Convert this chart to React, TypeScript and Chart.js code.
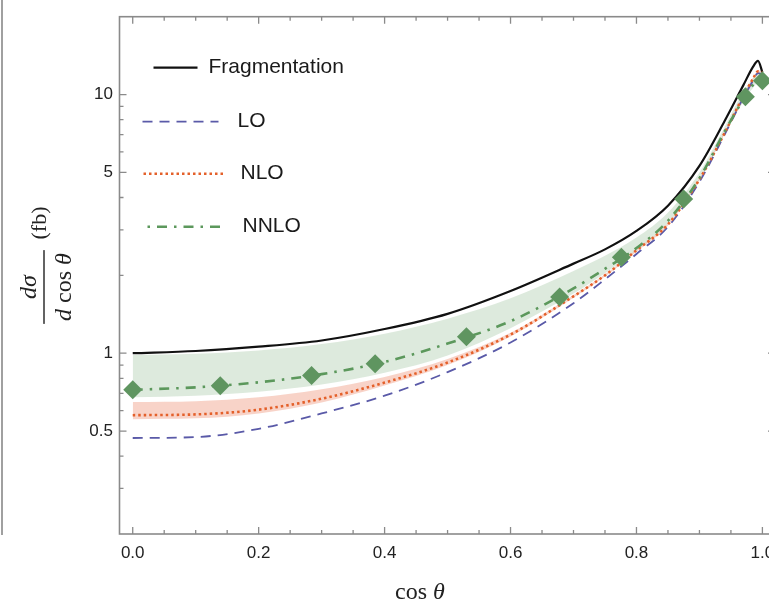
import React, { useEffect, useRef } from "react";
import { Chart, registerables } from "chart.js";

Chart.register(...registerables);

// ---- data ----
const cosTheta = [0, 0.1, 0.2, 0.3, 0.4, 0.5, 0.6, 0.7, 0.75, 0.8, 0.85, 0.9, 0.94, 0.97, 0.985, 0.993, 1.0];
const fragmentation = [1.0, 1.02, 1.06, 1.12, 1.24, 1.42, 1.74, 2.22, 2.52, 2.97, 3.72, 5.3, 7.9, 10.9, 12.8, 13.5, 12.2];
const lo = [0.47, 0.474, 0.51, 0.585, 0.685, 0.845, 1.1, 1.56, 1.93, 2.42, 3.08, 4.6, 7.0, 9.75, 11.3, 12.1, 12.0];
const nlo = [0.576, 0.58, 0.605, 0.667, 0.77, 0.92, 1.18, 1.66, 2.0, 2.5, 3.15, 4.7, 7.1, 9.9, 11.5, 12.3, 12.2];
const nloUpper = [0.647, 0.652, 0.675, 0.725, 0.81, 0.95, 1.2, 1.68, 2.02, 2.52, 3.18, 4.74, 7.16, 9.98, 11.6, 12.4, 12.3];
const nloLower = [0.556, 0.56, 0.585, 0.645, 0.75, 0.9, 1.16, 1.64, 1.98, 2.47, 3.12, 4.66, 7.04, 9.82, 11.4, 12.2, 12.1];
const nnlo = [0.722, 0.738, 0.772, 0.83, 0.925, 1.09, 1.33, 1.78, 2.12, 2.55, 3.25, 4.75, 7.2, 9.6, 10.9, 11.4, 11.3];
const nnloUpper = [0.985, 0.995, 1.025, 1.085, 1.19, 1.36, 1.63, 2.08, 2.38, 2.8, 3.5, 5.0, 7.5, 10.3, 11.6, 12.2, 11.9];
const nnloLower = [0.675, 0.685, 0.71, 0.757, 0.84, 0.98, 1.25, 1.7, 2.04, 2.5, 3.18, 4.68, 7.05, 9.4, 10.6, 11.1, 11.0];
const markerCos = [0, 0.139, 0.284, 0.385, 0.53, 0.678, 0.776, 0.875, 0.973, 1.0];
const markerNNLO = [0.722, 0.748, 0.82, 0.911, 1.157, 1.65, 2.35, 3.95, 9.8, 11.3];

const xTickValues = [0, 0.2, 0.4, 0.6, 0.8, 1.0];
const xMinorTicks = [0.05, 0.1, 0.15, 0.25, 0.3, 0.35, 0.45, 0.5, 0.55, 0.65, 0.7, 0.75, 0.85, 0.9, 0.95];
const yTickValues = [0.5, 1, 5, 10];
const yMinorTicks = [0.3, 0.4, 0.6, 0.7, 0.8, 0.9, 2, 3, 4, 6, 7, 8, 9];
const legendLabels = ["Fragmentation", "LO", "NLO", "NNLO"];

// ---- styles ----
const SANS = "'Liberation Sans', Arial, Helvetica, sans-serif";
const SERIF = "'Liberation Serif', 'Times New Roman', serif";
const C_FRAG = "#111111";
const C_LO = "#5a5aa8";
const C_NLO = "#e4602a";
const C_NNLO = "#5c985c";
const C_MARK = "#5f9560";
const FILL_NNLO = "rgba(150, 190, 150, 0.32)";
const FILL_NLO = "rgba(236, 140, 110, 0.38)";
const AXIS = "#8a8a8a";

const DASH_LO = [10, 7];
const DASH_NLO = [2.5, 3];
const DASH_NNLO = [10, 7, 2.5, 7];

const pts = (xs: number[], ys: number[]) => xs.map((x, i) => ({ x, y: ys[i] }));

type Part = { t: string; i?: boolean };
function drawRich(ctx: CanvasRenderingContext2D, parts: Part[], x: number, y: number, size: number) {
  const fontFor = (p: Part) => `${p.i ? "italic " : ""}${size}px ${SERIF}`;
  let total = 0;
  for (const p of parts) {
    ctx.font = fontFor(p);
    total += ctx.measureText(p.t).width;
  }
  let cx = x - total / 2;
  ctx.textAlign = "left";
  for (const p of parts) {
    ctx.font = fontFor(p);
    ctx.fillText(p.t, cx, y);
    cx += ctx.measureText(p.t).width;
  }
  return total;
}

const decor = {
  id: "decor",
  beforeDatasetsDraw(chart: any) {
    const { ctx, chartArea } = chart;
    const { left, right, top, bottom } = chartArea;
    const xs = chart.scales.x;
    const ys = chart.scales.y;
    ctx.save();
    ctx.strokeStyle = AXIS;
    ctx.lineWidth = 1.6;
    ctx.strokeRect(left, top, right - left, bottom - top);
    ctx.lineWidth = 1.3;
    const xTick = (v: number, len: number) => {
      const p = xs.getPixelForValue(v);
      ctx.beginPath();
      ctx.moveTo(p, bottom);
      ctx.lineTo(p, bottom - len);
      ctx.moveTo(p, top);
      ctx.lineTo(p, top + len);
      ctx.stroke();
    };
    const yTick = (v: number, len: number) => {
      const p = ys.getPixelForValue(v);
      ctx.beginPath();
      ctx.moveTo(left, p);
      ctx.lineTo(left + len, p);
      ctx.moveTo(right, p);
      ctx.lineTo(right - len, p);
      ctx.stroke();
    };
    xTickValues.forEach((v) => xTick(v, 7));
    xMinorTicks.forEach((v) => xTick(v, 4));
    yTickValues.forEach((v) => yTick(v, 7));
    yMinorTicks.forEach((v) => yTick(v, 4));
    ctx.restore();
  },
  afterDraw(chart: any) {
    const { ctx, chartArea } = chart;
    const { left, top } = chartArea;
    ctx.save();
    // legend
    const entries = [
      { color: C_FRAG, dash: [] as number[], off: 0, w: 2.2, x0: 34, x1: 78, y: 51, tx: 89 },
      { color: C_LO, dash: DASH_LO, off: 0, w: 1.8, x0: 23, x1: 99, y: 105, tx: 118 },
      { color: C_NLO, dash: DASH_NLO, off: 0, w: 2.6, x0: 24, x1: 106, y: 157, tx: 121 },
      { color: C_NNLO, dash: DASH_NNLO, off: 17, w: 2.6, x0: 28, x1: 103, y: 210, tx: 123 },
    ];
    entries.forEach((e, i) => {
      ctx.strokeStyle = e.color;
      ctx.lineWidth = e.w;
      ctx.setLineDash(e.dash);
      ctx.lineDashOffset = e.off;
      ctx.beginPath();
      ctx.moveTo(left + e.x0, top + e.y);
      ctx.lineTo(left + e.x1, top + e.y);
      ctx.stroke();
      ctx.setLineDash([]);
      ctx.lineDashOffset = 0;
      ctx.fillStyle = "#1a1a1a";
      ctx.font = `21px ${SANS}`;
      ctx.textAlign = "left";
      ctx.textBaseline = "middle";
      ctx.fillText(legendLabels[i], left + e.tx, top + e.y);
    });
    // axis titles
    ctx.fillStyle = "#222";
    ctx.textBaseline = "alphabetic";
    drawRich(ctx, [{ t: "cos " }, { t: "θ", i: true }], 420, 599, 24);
    ctx.translate(44, 287);
    ctx.rotate(-Math.PI / 2);
    const w = drawRich(ctx, [{ t: "d", i: true }, { t: " cos " }, { t: "θ", i: true }], 0, 27, 24);
    drawRich(ctx, [{ t: "dσ", i: true }], 0, -8, 24);
    ctx.fillRect(-w / 2 - 3, -0.7, w + 6, 1.4);
    drawRich(ctx, [{ t: "(fb)" }], 64, 2, 22);
    ctx.restore();
  },
};

export default function App() {
  const ref = useRef<HTMLCanvasElement | null>(null);
  useEffect(() => {
    if (!ref.current) return;
    const line = (label: string, ys: number[], color: string, dash: number[], width: number, order: number) => ({
      label,
      data: pts(cosTheta, ys),
      borderColor: color,
      borderWidth: width,
      borderDash: dash,
      pointRadius: 0,
      fill: false,
      cubicInterpolationMode: "monotone" as const,
      order,
    });
    const band = (label: string, ys: number[], fill: any, color: string, order: number) => ({
      label,
      data: pts(cosTheta, ys),
      borderWidth: 0,
      borderColor: "rgba(0,0,0,0)",
      backgroundColor: color,
      pointRadius: 0,
      fill,
      cubicInterpolationMode: "monotone" as const,
      order,
    });
    const chart = new Chart(ref.current, {
      type: "line",
      data: {
        datasets: [
          band("NNLO upper", nnloUpper, "+1", FILL_NNLO, 10),
          band("NNLO lower", nnloLower, false, FILL_NNLO, 10),
          band("NLO upper", nloUpper, "+1", FILL_NLO, 9),
          band("NLO lower", nloLower, false, FILL_NLO, 9),
          line("Fragmentation", fragmentation, C_FRAG, [], 2.2, 4),
          line("LO", lo, C_LO, DASH_LO, 1.8, 3),
          line("NLO", nlo, C_NLO, DASH_NLO, 2.6, 2),
          line("NNLO", nnlo, C_NNLO, DASH_NNLO, 2.6, 1),
          {
            label: "NNLO markers",
            data: pts(markerCos, markerNNLO),
            showLine: false,
            pointStyle: "rectRot",
            pointRadius: 9.5,
            pointBackgroundColor: C_MARK,
            pointBorderWidth: 0,
            borderColor: C_MARK,
            order: 0,
          } as any,
        ],
      },
      options: {
        animation: false,
        responsive: false,
        devicePixelRatio: 1,
        layout: { padding: { left: 0, top: 7, right: 25, bottom: 0 } },
        plugins: { legend: { display: false }, tooltip: { enabled: false } },
        scales: {
          x: {
            type: "linear",
            min: -0.021,
            max: 1.02,
            grid: { display: false, drawTicks: false },
            border: { display: false },
            afterBuildTicks: (s: any) => {
              s.ticks = xTickValues.map((v) => ({ value: v }));
            },
            afterFit: (s: any) => {
              s.height = 74;
            },
            ticks: {
              callback: (v: any) => Number(v).toFixed(1),
              font: { family: SANS, size: 17 },
              color: "#222",
              padding: 9,
              maxRotation: 0,
              autoSkip: false,
            },
          },
          y: {
            type: "logarithmic",
            min: 0.2,
            max: 20,
            grid: { display: false, drawTicks: false },
            border: { display: false },
            afterBuildTicks: (s: any) => {
              s.ticks = yTickValues.map((v) => ({ value: v }));
            },
            afterFit: (s: any) => {
              s.width = 119.5;
            },
            ticks: {
              callback: (v: any) => String(v),
              font: { family: SANS, size: 17 },
              color: "#222",
              padding: 6.5,
              autoSkip: false,
            },
          },
        },
      },
      plugins: [decor],
    });
    return () => chart.destroy();
  }, []);
  return (
    <div style={{ position: "fixed", left: 0, top: 0, width: 769, height: 608, overflow: "hidden", background: "#fff" }}>
      <div style={{ position: "absolute", left: 1, top: 0, width: 1.5, height: 535, background: "#a0a0a0" }} />
      <canvas ref={ref} width={800} height={608} style={{ position: "absolute", left: 0, top: 0, width: 800, height: 608 }} />
    </div>
  );
}
